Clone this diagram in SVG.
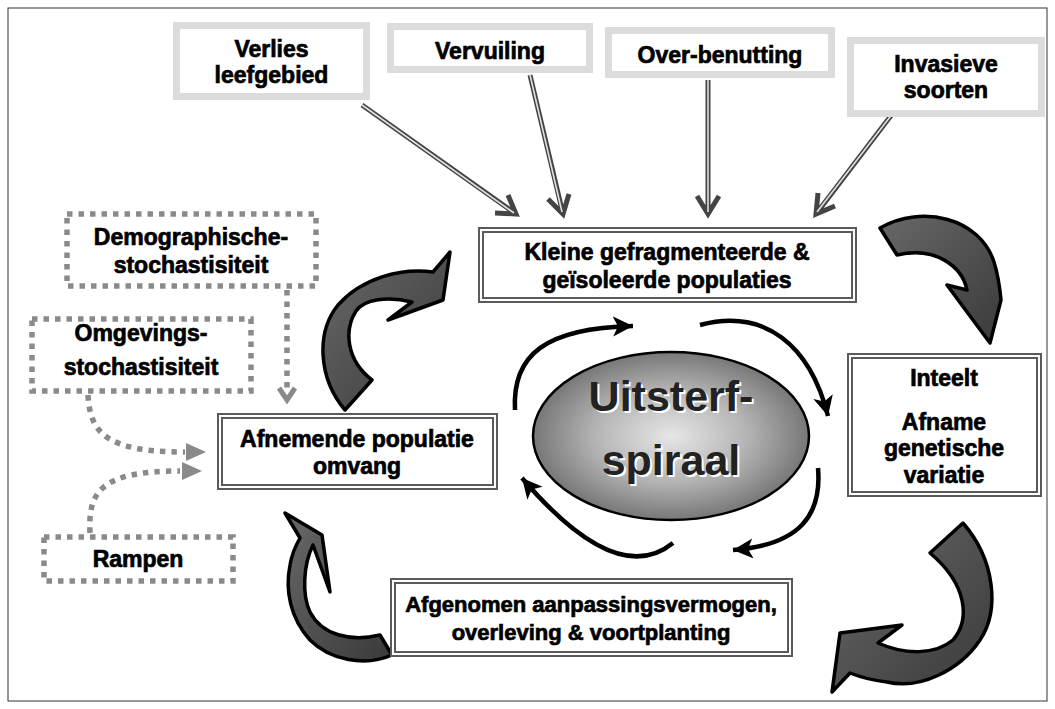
<svg xmlns="http://www.w3.org/2000/svg" width="1055" height="709" viewBox="0 0 1055 709">
<style>
.t{font-family:"Liberation Sans",Arial,sans-serif;font-weight:bold;font-size:23px;fill:#000;stroke:#000;stroke-width:0.7;text-anchor:middle}
.gbox{fill:#fff;stroke:#dcdcdc;stroke-width:7}
.dbo{fill:#fff;stroke:#5a5a5a;stroke-width:6}
.dbi{fill:none;stroke:#fff;stroke-width:2}
.dot{fill:#fff;stroke:#8a8a8a;stroke-width:5.5;stroke-dasharray:5.5 6}
.dotl{fill:none;stroke:#8a8a8a;stroke-width:5.5;stroke-dasharray:5.5 6}
.dlo{fill:none;stroke:#444;stroke-width:5}
.dli{fill:none;stroke:#e0e0e0;stroke-width:1.6}
.big{fill:url(#bg);stroke:#000;stroke-width:3.5;stroke-linejoin:round}
.sm{fill:none;stroke:#000;stroke-width:4.5}
.sp{font-family:"Liberation Sans",Arial,sans-serif;font-weight:bold;font-size:43px;text-anchor:middle}
</style>
<defs>
<radialGradient id="eg" cx="50%" cy="50%" r="50%">
<stop offset="0" stop-color="#e6e6e6"/>
<stop offset="0.55" stop-color="#b4b4b4"/>
<stop offset="1" stop-color="#777"/>
</radialGradient>
<linearGradient id="bg" x1="0" y1="0" x2="1" y2="1">
<stop offset="0" stop-color="#686868"/>
<stop offset="1" stop-color="#3a3a3a"/>
</linearGradient>
<marker id="ah" markerUnits="userSpaceOnUse" markerWidth="24" markerHeight="24" refX="20" refY="10" orient="auto">
<path d="M0,0 L20,10 L0,20 L5,10 Z" fill="#000"/>
</marker>
</defs>
<rect x="8" y="8" width="1039" height="693" fill="#fff" stroke="#333" stroke-width="1"/>

<g id="connectors">
<g>
<path class="dlo" d="M362,105 L516,214 M495,213 L516,214 L508,195"/>
<path class="dli" d="M362,105 L514,213"/>
<path class="dlo" d="M530,75 L563,214 M548,199 L563,214 L569,194"/>
<path class="dli" d="M530,75 L562,212"/>
<path class="dlo" d="M708,80 L708,214 M697,196 L708,214 L719,196"/>
<path class="dli" d="M708,80 L708,212"/>
<path class="dlo" d="M893,113 L816,214 M818,193 L816,214 L835,206"/>
<path class="dli" d="M893,113 L817,212"/>
</g>
<path class="dotl" d="M287,290 L287,392"/>
<path d="M279,388 L287,400 L295,388" fill="none" stroke="#8a8a8a" stroke-width="5"/>
<path class="dotl" d="M88,395 C90,432 105,452 185,452"/>
<path d="M186,443 L206,452 L186,461 Z" fill="#8a8a8a"/>
<path class="dotl" d="M90,533 C88,492 100,471 180,471"/>
<path d="M182,462 L202,471 L182,480 Z" fill="#8a8a8a"/>
<path class="sm" marker-end="url(#ah)" d="M515,410 C512,355 545,328 633,326"/>
<path class="sm" marker-end="url(#ah)" d="M700,325 C765,308 810,345 828,416"/>
<path class="sm" marker-end="url(#ah)" d="M818,468 C822,515 800,545 733,550"/>
<path class="sm" marker-end="url(#ah)" d="M673,543 C630,578 575,540 522,478"/>
<path class="big" d="M433,272 L450,252 L443,300 L388,320 L412,302 C388,296 364,299 356,311 C344,330 346,360 372,380 L345,410 C318,378 316,332 338,305 C362,278 400,268 433,272 Z"/>
<path class="big" d="M880,228 C922,204 980,218 994,262 C999,278 1000,290 1001,300 L990,343 L947,285 L967,290 C962,266 935,246 897,255 Z"/>
<path class="big" d="M832,692 L840,633 L902,625 L878,643 C905,655 935,655 953,640 C970,620 968,585 930,553 L963,523 C995,560 1000,610 980,640 C960,670 920,690 887,682 C870,680 860,677 850,673 Z"/>
<path class="big" d="M285,513 L322,535 L330,592 L313,545 C303,565 302,595 310,612 C322,635 350,642 380,635 L392,655 C365,667 330,660 310,640 C290,618 285,590 290,565 C292,553 296,545 300,538 Z"/>
</g>

<g id="n-verlies">
<rect class="gbox" x="176.5" y="25.5" width="190" height="71"/>
<text class="t" x="271.5" y="57">Verlies</text>
<text class="t" x="271.5" y="83">leefgebied</text>
</g>
<g id="n-vervuiling">
<rect class="gbox" x="390.5" y="26.5" width="199" height="43"/>
<text class="t" x="490" y="59">Vervuiling</text>
</g>
<g id="n-over">
<rect class="gbox" x="608.5" y="30.5" width="223" height="44"/>
<text class="t" x="720" y="63">Over-benutting</text>
</g>
<g id="n-invasieve">
<rect class="gbox" x="850.5" y="40.5" width="191" height="73"/>
<text class="t" x="946" y="72">Invasieve</text>
<text class="t" x="946" y="98">soorten</text>
</g>

<g id="n-kleine">
<rect class="dbo" x="481" y="230" width="373" height="70"/>
<rect class="dbi" x="481" y="230" width="373" height="70"/>
<text class="t" x="667" y="260">Kleine gefragmenteerde &amp;</text>
<text class="t" x="667" y="288">geïsoleerde populaties</text>
</g>
<g id="n-inteelt">
<rect class="dbo" x="850" y="356" width="189" height="138"/>
<rect class="dbi" x="850" y="356" width="189" height="138"/>
<text class="t" x="944" y="386">Inteelt</text>
<text class="t" x="944" y="430">Afname</text>
<text class="t" x="944" y="456">genetische</text>
<text class="t" x="944" y="483">variatie</text>
</g>
<g id="n-afnemende">
<rect class="dbo" x="220" y="416" width="275" height="71"/>
<rect class="dbi" x="220" y="416" width="275" height="71"/>
<text class="t" x="357" y="447">Afnemende populatie</text>
<text class="t" x="357" y="474">omvang</text>
</g>
<g id="n-afgenomen">
<rect class="dbo" x="393" y="581" width="397" height="73"/>
<rect class="dbi" x="393" y="581" width="397" height="73"/>
<text class="t" x="591" y="612" style="font-size:22px">Afgenomen aanpassingsvermogen,</text>
<text class="t" x="591" y="640" style="font-size:22px">overleving &amp; voortplanting</text>
</g>

<g id="n-demo">
<rect class="dot" x="67" y="214" width="249" height="72"/>
<text class="t" x="191" y="245">Demographische-</text>
<text class="t" x="191" y="273">stochastisiteit</text>
</g>
<g id="n-omgevings">
<rect class="dot" x="32" y="319" width="219" height="72"/>
<text class="t" x="141" y="341">Omgevings-</text>
<text class="t" x="141" y="375">stochastisiteit</text>
</g>
<g id="n-rampen">
<rect class="dot" x="44" y="537" width="189" height="44"/>
<text class="t" x="138" y="567">Rampen</text>
</g>

<g id="n-spiraal">
<ellipse cx="671" cy="436" rx="138" ry="84" fill="url(#eg)" stroke="#000" stroke-width="2.5"/>
<text class="sp" x="673" y="413" fill="#fff">Uitsterf-</text>
<text class="sp" x="673" y="477" fill="#fff">spiraal</text>
<text class="sp" x="671" y="411" fill="#222">Uitsterf-</text>
<text class="sp" x="671" y="475" fill="#222">spiraal</text>
</g>
</svg>
